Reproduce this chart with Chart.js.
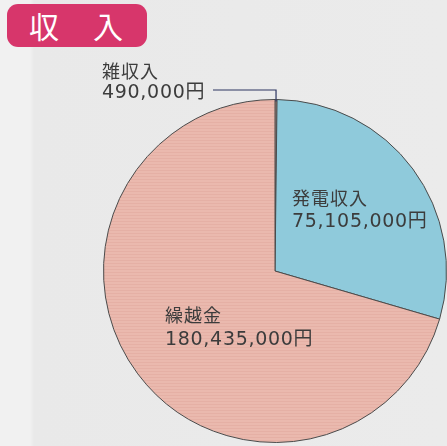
<!DOCTYPE html>
<html>
<head>
<meta charset="utf-8">
<script src="https://cdn.jsdelivr.net/npm/chart.js@4"></script>
<style>
  html, body { margin: 0; padding: 0; }
  body { width: 447px; height: 446px; overflow: hidden; background: linear-gradient(90deg, #f1f1f1 0px, #f1f1f1 30px, #e9e9e9 34px, #ebebeb 100%); position: relative; font-family: "Noto Sans CJK JP", sans-serif; }
  #title { position: absolute; left: 7px; top: 4px; width: 140px; height: 43px; border-radius: 11px; background: #d7366b; color: #fff; font-size: 30px; line-height: 43px; }
  #title span { position: absolute; top: 0; }
  #wrap { position: absolute; left: 0; top: 0; width: 447px; height: 446px; }
</style>
</head>
<body>
<div id="title"><span style="left:22px">収</span><span style="left:86px">入</span></div>
<div id="wrap"><canvas id="myChart" width="447" height="446"></canvas></div>
<script>
const categories = ['雑収入', '発電収入', '繰越金'];
const amounts = [490000, 75105000, 180435000];
const amountLabels = ['490,000円', '75,105,000円', '180,435,000円'];

// stripe texture for the pink slice
function stripes(a, b) {
    const c = document.createElement('canvas');
    c.width = 4;
    c.height = 3;
    const g = c.getContext('2d');
    g.fillStyle = a;
    g.fillRect(0, 0, 4, 3);
    g.fillStyle = b;
    g.fillRect(0, 2, 4, 1);
    return g.createPattern(c, 'repeat');
}

const pink = stripes('#eab9ae', '#e5b0a5');

const labelPlugin = {
    id: 'sliceLabels',
    afterDatasetsDraw(chart) {
        const ctx = chart.ctx;
        const arcs = chart.getDatasetMeta(0).data;
        const cx = arcs[0].x;
        const cy = arcs[0].y;
        const r = arcs[0].outerRadius;
        ctx.save();
        ctx.fillStyle = '#3c3c3c';
        ctx.textBaseline = 'alphabetic';
        ctx.textAlign = 'left';
        // offsets from the pie centre
        const spots = [
            [-173, -193, -173],
            [17, -66, -44],
            [-110, 51, 74]
        ];
        spots.forEach((s, i) => {
            ctx.font = '18px "Noto Sans CJK JP"';
            ctx.letterSpacing = '1px';
            ctx.fillText(categories[i], cx + s[0], cy + s[1]);
            ctx.font = '19px "DejaVu Sans", "Noto Sans CJK JP"';
            ctx.letterSpacing = '0.7px';
            ctx.fillText(amountLabels[i], cx + s[0], cy + s[2]);
        });
        // leader line for the small slice
        const a = arcs[0];
        const mid = (a.startAngle + a.endAngle) / 2;
        const px = cx + Math.cos(mid) * r;
        const py = cy + Math.sin(mid) * r;
        ctx.strokeStyle = '#2c3560';
        ctx.lineWidth = 1.2;
        ctx.beginPath();
        ctx.moveTo(cx - 62, cy - 181);
        ctx.lineTo(px, cy - 181);
        ctx.lineTo(px, py + 2);
        ctx.stroke();
        ctx.restore();
    }
};

new Chart(document.getElementById('myChart'), {
    type: 'pie',
    data: {
        labels: categories,
        datasets: [{
            data: amounts,
            backgroundColor: ['#d8a79c', '#8fcadb', pink],
            borderColor: '#4a4a4a',
            borderWidth: 1
        }]
    },
    options: {
        responsive: false,
        animation: false,
        layout: { padding: { left: 103, right: 0, top: 99, bottom: 3 } },
        plugins: {
            legend: { display: false },
            tooltip: { enabled: false }
        }
    },
    plugins: [labelPlugin]
});
</script>
</body>
</html>
